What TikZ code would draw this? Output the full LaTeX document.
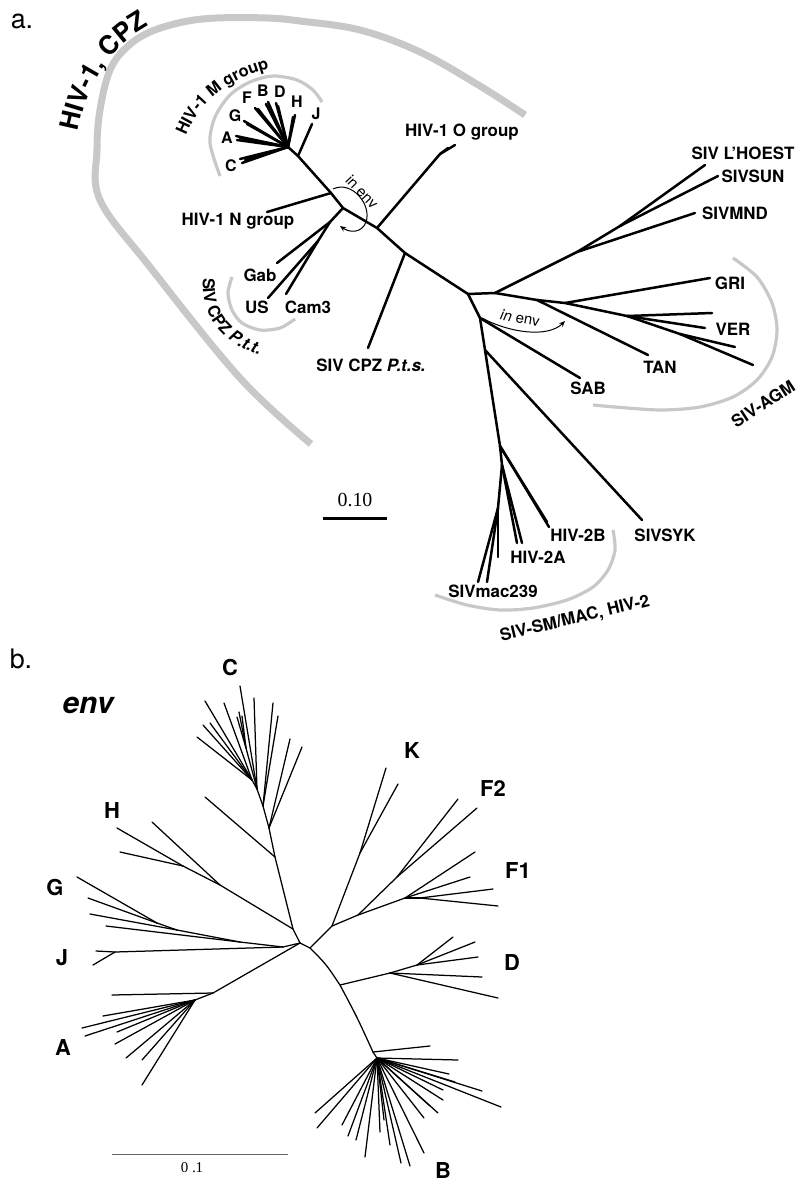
\documentclass[tikz,border=0pt]{standalone}
\usepackage{fontspec}
\newfontfamily\hv{TeX Gyre Heros}
\newfontfamily\tms{Liberation Serif}
\usetikzlibrary{arrows.meta,decorations.text}
\definecolor{arcgray}{HTML}{C8C8C8}
% a branch from a named parent to a new named tip
\newcommand{\twig}[4]{\coordinate (#3) at (#4);\draw[#1] (#2) -- (#3);}
\begin{document}
\begin{tikzpicture}[x=1bp,y=-1bp,
  tr/.style={line width=2.5bp,line cap=round,line join=round},
  tb/.style={line width=1.25bp,line cap=round,line join=round},
  grp/.style={draw=arcgray,line width=3.2bp,line cap=butt},
  lab/.style={font=\hv\bfseries\fontsize{17}{17}\selectfont,inner sep=0pt},
  sub/.style={font=\hv\bfseries\fontsize{16}{16}\selectfont,inner sep=0pt},
  big/.style={font=\hv\bfseries\fontsize{22}{22}\selectfont,inner sep=0pt},
  envt/.style={font=\hv\fontsize{15}{15}\selectfont,inner sep=0pt},
  panel/.style={font=\hv\fontsize{27}{27}\selectfont,inner sep=0pt},
  loopar/.style={line width=1bp,-{Stealth[length=6bp,width=5bp]}}]
\useasboundingbox (0,0) rectangle (801,1183);
\fill[white] (0,0) rectangle (801,1183);

% ---------- panel a: grey clade arcs ----------
\draw[draw=arcgray,line width=7bp] plot[smooth,tension=0.6] coordinates {(311,444) (240,378) (150,267) (100,200) (97,150) (100,110) (110,70) (127,47) (150,32) (183,22) (217,18) (267,18) (300,21) (360,30) (420,52) (480,86) (525,115)};
\draw[grp] plot[smooth] coordinates {(220,176) (210,143) (215,117) (230,95) (250,82) (273,76) (297,80) (313,90) (322,102)};
\draw[grp] plot[smooth] coordinates {(232,277) (228,293) (232,310) (242,323) (260,330) (280,328) (295,319)};
\draw[grp] plot[smooth] coordinates {(733,258) (757,277) (772,303) (777,330) (772,357) (757,380) (733,397) (700,407) (663,410) (627,408) (593,405)};
\draw[grp] plot[smooth] coordinates {(613,530) (615,550) (608,570) (593,587) (567,600) (533,608) (500,610) (467,605) (435,595)};

% ---------- panel a: tree ----------
\coordinate (mh) at (288,147);
\coordinate (jj) at (298,156);
\coordinate (nj) at (331,193);
\coordinate (pj) at (343,208);
\coordinate (oj) at (377,228);
\coordinate (sj) at (405,253);
\coordinate (hub) at (468,294);
\draw[tr] (mh) -- (jj) -- (nj) -- (pj) -- (oj) -- (sj) -- (hub);

% HIV-1 M group subtypes
\twig{tr}{mh}{mC1}{240,159}\twig{tr}{mh}{mC2}{242,163}\twig{tr}{mh}{mC3}{245,160}
\twig{tr}{mh}{mA1}{236,136}\twig{tr}{mh}{mA2}{237,140}\twig{tr}{mh}{mA3}{240,138}
\twig{tr}{mh}{mG1}{244,121}\twig{tr}{mh}{mG2}{247,124}
\twig{tr}{mh}{mF1}{255,108}\twig{tr}{mh}{mF2}{258,109}
\twig{tr}{mh}{mB1}{268,102}\twig{tr}{mh}{mB2}{266,104}
\twig{tr}{mh}{mD1}{276,103}\twig{tr}{mh}{mD2}{278,106}
\twig{tr}{mh}{mH1}{295,115}\twig{tr}{mh}{mH2}{293,117}
\twig{tr}{jj}{mJ}{312,124}

% N, O, P.t.t., P.t.s.
\twig{tr}{nj}{nt}{267,212}
\twig{tr}{oj}{oj2}{440,154}\twig{tr}{oj2}{ot1}{455,145}\twig{tr}{oj2}{ot2}{448,148}
\twig{tr}{pj}{pj2}{330,222}\twig{tr}{pj2}{gabt}{277,263}
\twig{tr}{pj2}{pj3}{318,241}\twig{tr}{pj3}{ust}{268,298}\twig{tr}{pj3}{camt}{286,294}
\twig{tr}{sj}{ptst}{368,348}

% SIV lineages
\twig{tr}{hub}{h2}{495,293}
\twig{tr}{h2}{mj}{577,252}\twig{tr}{mj}{mndt}{695,213}
\twig{tr}{mj}{lj}{620,226}\twig{tr}{lj}{lhot}{705,165}\twig{tr}{lj}{sunt}{718,176}
\twig{tr}{h2}{tj}{537,300}\twig{tr}{tj}{tant}{648,355}
\twig{tr}{tj}{gj}{565,303}\twig{tr}{gj}{grit}{710,278}
\twig{tr}{gj}{vj}{627,316}\twig{tr}{vj}{v1}{712,313}\twig{tr}{vj}{v2}{705,328}
\twig{tr}{vj}{vj2}{680,334}\twig{tr}{vj2}{v3}{735,347}\twig{tr}{vj2}{v4}{753,365}
\twig{tr}{hub}{sab0}{480,318}\twig{tr}{sab0}{sabt}{580,378}
\twig{tr}{sab0}{syk0}{485,350}\twig{tr}{syk0}{sykt}{642,520}
\twig{tr}{syk0}{smj}{500,446}
\twig{tr}{smj}{b1}{547,522}\twig{tr}{smj}{b2}{549,527}
\twig{tr}{smj}{aj2}{502,465}\twig{tr}{aj2}{a1}{517,543}\twig{tr}{aj2}{a2}{522,543}
\twig{tr}{aj2}{mcj}{498,508}\twig{tr}{mcj}{m1}{498,557}\twig{tr}{mcj}{m2}{478,582}\twig{tr}{mcj}{m3}{487,582}

% recombination arrows
\draw[loopar] (333,189) .. controls (352,180) and (372,205) .. (366,222) .. controls (362,233) and (350,233) .. (340,226);
\draw[loopar] (482,318) .. controls (510,333) and (548,338) .. (565,321);
\node[envt,rotate=-46] (env1) at (362,192) {in env};
\node[envt,rotate=-10] (env2) at (520,318) {\itshape in\upshape{} env};

% scale bar
\coordinate (sa1) at (323,518); \coordinate (sa2) at (387,518);
\draw[line width=3bp] (sa1) -- (sa2);
\node[font=\tms\fontsize{20}{20}\selectfont,inner sep=0pt] (sal) at (355,500) {0.10};

% labels
\node[panel] (pa) at (22,21) {a.};
\path[decorate,decoration={text along path,text align=center,
  text={|\hv\bfseries\fontsize{26}{26}\selectfont|HIV-1, CPZ}}]
  (77,139) .. controls (84,89) and (109,44) .. (156,22);
\path[decorate,decoration={text along path,text align=left,
  text={|\hv\bfseries\fontsize{16.5}{16.5}\selectfont|HIV-1 M group}}]
  (186,136) .. controls (200,100) and (230,75) .. (290,64);
\path[decorate,decoration={text along path,text align=left,
  text={|\hv\bfseries\fontsize{16.5}{16.5}\selectfont|SIV CPZ |\hv\bfseries\itshape\fontsize{16.5}{16.5}\selectfont|P.t.t.}}]
  (203,278) .. controls (200,320) and (225,355) .. (295,362);
\node[sub] (lC) at (231,166) {C};
\node[sub] (lA) at (227,138) {A};
\node[sub] (lG) at (235,116) {G};
\node[sub] (lF) at (247,98) {F};
\node[sub] (lB) at (263,91) {B};
\node[sub] (lD) at (280,92) {D};
\node[sub] (lH) at (297,102) {H};
\node[sub] (lJ) at (316,114) {J};
\node[lab] (lN) at (238,221) {HIV-1 N group};
\node[lab] (lO) at (462,132) {HIV-1 O group};
\node[lab] (lGab) at (260,275) {Gab};
\node[lab] (lUS) at (257,307) {US};
\node[lab] (lCam) at (308,307) {Cam3};
\node[lab] (lPts) at (371,365) {SIV CPZ \itshape P.t.s.};
\node[lab] (lLH) at (743,153) {SIV L’HOEST};
\node[lab] (lSUN) at (753,176) {SIVSUN};
\node[lab] (lMND) at (735,213) {SIVMND};
\node[lab] (lGRI) at (730,283) {GRI};
\node[lab] (lVER) at (733,329) {VER};
\node[lab] (lTAN) at (660,367) {TAN};
\node[lab] (lSAB) at (588,388) {SAB};
\node[lab,rotate=33] (lAGM) at (763,404) {SIV-AGM};
\node[lab] (l2B) at (578,535) {HIV-2B};
\node[lab] (l2A) at (538,557) {HIV-2A};
\node[lab] (lmac) at (493,591) {SIVmac239};
\node[lab] (lSYK) at (665,535) {SIVSYK};
\node[lab,rotate=13.5] (lSM) at (575,619) {SIV-SM/MAC, HIV-2};

% ---------- panel b: env tree ----------
\coordinate (r1) at (300,943); \coordinate (r2) at (310,948);
\draw[tb] (r1) -- (r2);
% C
\twig{tb}{r1}{hj}{293,929}
\twig{tb}{hj}{cj0}{275,857}\twig{tb}{cj0}{cl}{205,797}
\twig{tb}{cj0}{c1}{269,828}\twig{tb}{c1}{ct1}{302,747}\twig{tb}{c1}{ct2}{290,739}
\twig{tb}{c1}{c2}{263,806}\twig{tb}{c2}{ct3}{278,716}\twig{tb}{c2}{ct4}{273,703}
\twig{tb}{c2}{c3}{257,789}\twig{tb}{c3}{ct5}{254,698}\twig{tb}{c3}{ct6}{240,686}
\twig{tb}{c3}{c5}{246,748}\twig{tb}{c5}{ct7}{237,717}\twig{tb}{c5}{ct8}{239,712}\twig{tb}{c5}{ct9}{242,716}
\twig{tb}{c3}{c4}{252,780}
\foreach \q [count=\i] in {{205,701},{224,703},{210,723},{203,725},{197,737}}
  {\coordinate (cf\i) at (\q); \draw[tb] (c4) -- (cf\i);}
% H
\twig{tb}{hj}{hj1}{220,885}\twig{tb}{hj1}{ht1}{152,822}
\twig{tb}{hj1}{hj2}{183,866}\twig{tb}{hj2}{ht2}{117,828}\twig{tb}{hj2}{ht3}{120,852}
% G and J
\twig{tb}{r1}{gjn}{283,947}
\twig{tb}{gjn}{g1}{240,942}\twig{tb}{g1}{gt1}{106,926}
\twig{tb}{g1}{g2}{177,930}\twig{tb}{g2}{gt2}{90,914}
\twig{tb}{g2}{g3}{157,923}\twig{tb}{g3}{gt3}{77,877}\twig{tb}{g3}{gt4}{88,898}
\twig{tb}{gjn}{jn}{115,952}\twig{tb}{jn}{jt1}{96,951}\twig{tb}{jn}{jt2}{93,965}
% A
\twig{tb}{r1}{an}{213,993}\twig{tb}{an}{at0}{112,995}
\twig{tb}{an}{an1}{195,1000}
\foreach \q [count=\i] in {{103,1016},{82,1028},{85,1036},{117,1032},{115,1044},{126,1058},{142,1060},{142,1085}}
  {\coordinate (af\i) at (\q); \draw[tb] (an1) -- (af\i);}
% K, F2, F1
\twig{tb}{r2}{kf}{332,926}
\twig{tb}{kf}{kn}{360,853}\twig{tb}{kn}{kt1}{386,768}\twig{tb}{kn}{kt2}{398,784}
\twig{tb}{kf}{fn}{358,915}
\twig{tb}{fn}{f2n}{397,877}\twig{tb}{f2n}{f2t1}{458,799}\twig{tb}{f2n}{f2t2}{477,808}
\twig{tb}{fn}{f1n}{405,898}\twig{tb}{f1n}{f1t1}{475,852}\twig{tb}{f1n}{f1t2}{470,877}
\twig{tb}{f1n}{f1n2}{420,898}\twig{tb}{f1n2}{f1t3}{493,889}\twig{tb}{f1n2}{f1t4}{498,906}
% D and B along the curved trunk
\coordinate (dn0) at (340,985); \coordinate (bn) at (373,1052);
\draw[tb] (r2) .. controls (326,964) .. (dn0) .. controls (357,1017) .. (bn);
\twig{tb}{dn0}{dn}{390,973}\twig{tb}{dn}{dt1}{482,977}\twig{tb}{dn}{dt2}{498,998}
\twig{tb}{dn}{dn2}{417,965}\twig{tb}{dn2}{dt3}{478,957}\twig{tb}{dn2}{dt4}{475,942}\twig{tb}{dn2}{dt5}{453,937}
\twig{tb}{bn}{bt0}{430,1046}
\twig{tb}{bn}{bh}{377,1058}
\foreach \q [count=\i] in {{458,1060},{449,1074},{482,1091},{501,1107},{443,1090},{455,1082},{443,1100},{438,1113},{430,1106},{424,1118},{424,1153},{410,1166},{401,1163},{390,1145},{380,1132},{384,1120},{365,1157},{356,1140},{348,1136},{342,1125},{317,1128},{315,1113}}
  {\coordinate (bf\i) at (\q); \draw[tb] (bh) -- (bf\i);}

% scale bar b
\coordinate (sb1) at (112,1154); \coordinate (sb2) at (288,1154);
\draw[draw=black!60,line width=0.8bp] (sb1) -- (sb2);
\node[font=\tms\fontsize{15}{15}\selectfont,inner sep=0pt] (sbl) at (192,1168) {0 .1};

% labels b
\node[panel] (pb) at (21,659) {b.};
\node[font=\hv\bfseries\itshape\fontsize{30}{30}\selectfont,inner sep=0pt] (lenv) at (88,705) {env};
\node[big] (bC) at (230,668) {C};
\node[big] (bK) at (412,750) {K};
\node[big] (bF2) at (493,788) {F2};
\node[big] (bF1) at (518,870) {F1};
\node[big] (bD) at (512,962) {D};
\node[big] (bH) at (112,810) {H};
\node[big] (bG) at (55,887) {G};
\node[big] (bJ) at (62,958) {J};
\node[big] (bA) at (63,1047) {A};
\node[big] (bB) at (443,1170) {B};
\end{tikzpicture}
\end{document}
